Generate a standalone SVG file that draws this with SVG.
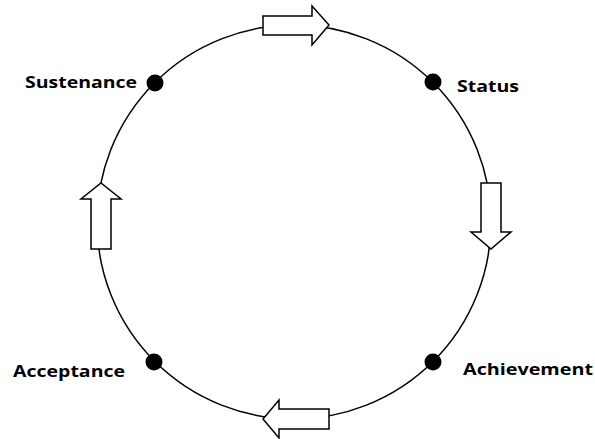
<svg xmlns="http://www.w3.org/2000/svg" width="595" height="439" viewBox="0 0 595 439">
<style>
.ring{fill:none;stroke:#000;stroke-width:1.5}
.arr{fill:#fff;stroke:#000;stroke-width:1.5;stroke-linejoin:miter}
.dot{fill:#000}
.lbl{font-family:"Open Sans","Liberation Sans",sans-serif;font-weight:bold;font-size:16.5px;fill:#000}
</style>
<rect width="595" height="439" fill="#fff"/>
<g id="connectors">
<circle class="ring" cx="294" cy="222" r="197"/>
<path class="arr" d="M263,16 H312 V6 L329,25 L312,45 V35 H263 Z"/>
<path class="arr" d="M481,183 H501 V232 H511 L491,249 L471,232 H481 Z"/>
<path class="arr" d="M329,409 H279 V400 L263,419 L279,438 V429 H329 Z"/>
<path class="arr" d="M91,249 V199 H81 L101,183 L121,199 H111 V249 Z"/>
</g>
<g id="sustenance"><circle class="dot" cx="155" cy="83" r="8.5"/><text class="lbl" x="25" y="88" textLength="112" lengthAdjust="spacingAndGlyphs">Sustenance</text></g>
<g id="status"><circle class="dot" cx="433" cy="82" r="8.5"/><text class="lbl" x="457" y="92" textLength="62" lengthAdjust="spacingAndGlyphs">Status</text></g>
<g id="acceptance"><circle class="dot" cx="154" cy="362" r="8.5"/><text class="lbl" x="13" y="377" textLength="112" lengthAdjust="spacingAndGlyphs">Acceptance</text></g>
<g id="achievement"><circle class="dot" cx="433" cy="362" r="8.5"/><text class="lbl" x="463" y="375" textLength="130" lengthAdjust="spacingAndGlyphs">Achievement</text></g>
</svg>
